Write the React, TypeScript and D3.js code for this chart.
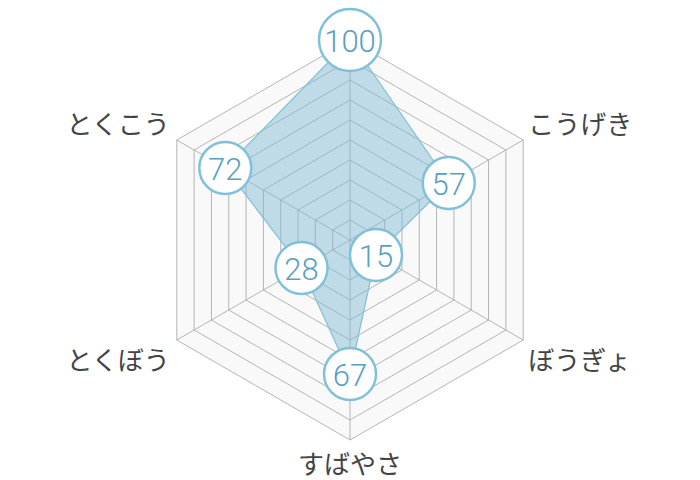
import React from 'react';
import * as d3 from 'd3';

// top axis label is hidden under the value bubble in the reference, so it is left blank
const axes = ['', 'こうげき', 'ぼうぎょ', 'すばやさ', 'とくぼう', 'とくこう'];
const values = [100, 57, 15, 67, 28, 72];
const maxValue = 100;
const ringCount = 10;

const width = 700;
const height = 480;
const cx = 350;
const cy = 240;
const radius = 200;

const App: React.FC = () => {
  const r = d3.scaleLinear().domain([0, maxValue]).range([0, radius]);
  const angle = d3.scaleLinear().domain([0, axes.length]).range([0, 2 * Math.PI]);

  const pt = (i: number, v: number): [number, number] => {
    const a = angle(i);
    return [cx + r(v) * Math.sin(a), cy - r(v) * Math.cos(a)];
  };

  const rings = r.ticks(ringCount).filter((t) => t > 0);
  const line = d3.line<[number, number]>().curve(d3.curveLinearClosed);
  const hexPath = (v: number) => line(axes.map((_, i) => pt(i, v))) as string;
  const dataPath = line(values.map((v, i) => pt(i, v))) as string;

  const labelPos = (i: number) => {
    const [x, y] = pt(i, maxValue);
    const s = Math.sin(angle(i));
    const c = Math.cos(angle(i));
    let anchor = 'middle';
    let lx = x;
    if (s > 0.1) { anchor = 'start'; lx = x + 5; }
    else if (s < -0.1) { anchor = 'end'; lx = x - 7; }
    let ly = y;
    if (Math.abs(s) > 0.1) ly = c > 0 ? y - 18 : y + 18;
    else ly = c > 0 ? y - 22 : y + 22;
    return { lx, ly, anchor };
  };

  return (
    <svg width={width} height={height} style={{ position: 'absolute', left: 0, top: 0, background: '#fff' }}>
      {/* grid */}
      <path d={hexPath(maxValue)} fill="#f9f9f9" stroke="none" />
      {rings.map((t) => (
        <path key={t} d={hexPath(t)} fill="none" stroke="#a3a3a3" strokeWidth={0.8} />
      ))}
      {axes.map((_, i) => {
        const [x, y] = pt(i, maxValue);
        return <line key={i} x1={cx} y1={cy} x2={x} y2={y} stroke="#a3a3a3" strokeWidth={0.8} />;
      })}

      {/* labels */}
      {axes.map((name, i) => {
        if (!name) return null;
        const { lx, ly, anchor } = labelPos(i);
        return (
          <text key={name} x={lx} y={ly} textAnchor={anchor} dominantBaseline="central"
            fontFamily="'Noto Sans CJK JP', sans-serif" fontSize={26} fill="#444">
            {name}
          </text>
        );
      })}

      {/* data */}
      <path d={dataPath} fill="#7db9d3" fillOpacity={0.47} stroke="#86bed6" strokeWidth={1.2} />

      {values.map((v, i) => {
        const [x, y] = pt(i, v);
        const txt = String(v);
        const cr = 26 + Math.max(0, txt.length - 2) * 5;
        return (
          <g key={i} transform={`translate(${x},${y})`}>
            <circle r={cr} fill="#fff" stroke="#80c0d9" strokeWidth={2.5} />
            <text textAnchor="middle" dominantBaseline="central" y={1}
              fontFamily="Roboto, sans-serif" fontWeight={300} fontSize={31} fill="#5a9fc1">
              {txt}
            </text>
          </g>
        );
      })}
    </svg>
  );
};

export default App;
